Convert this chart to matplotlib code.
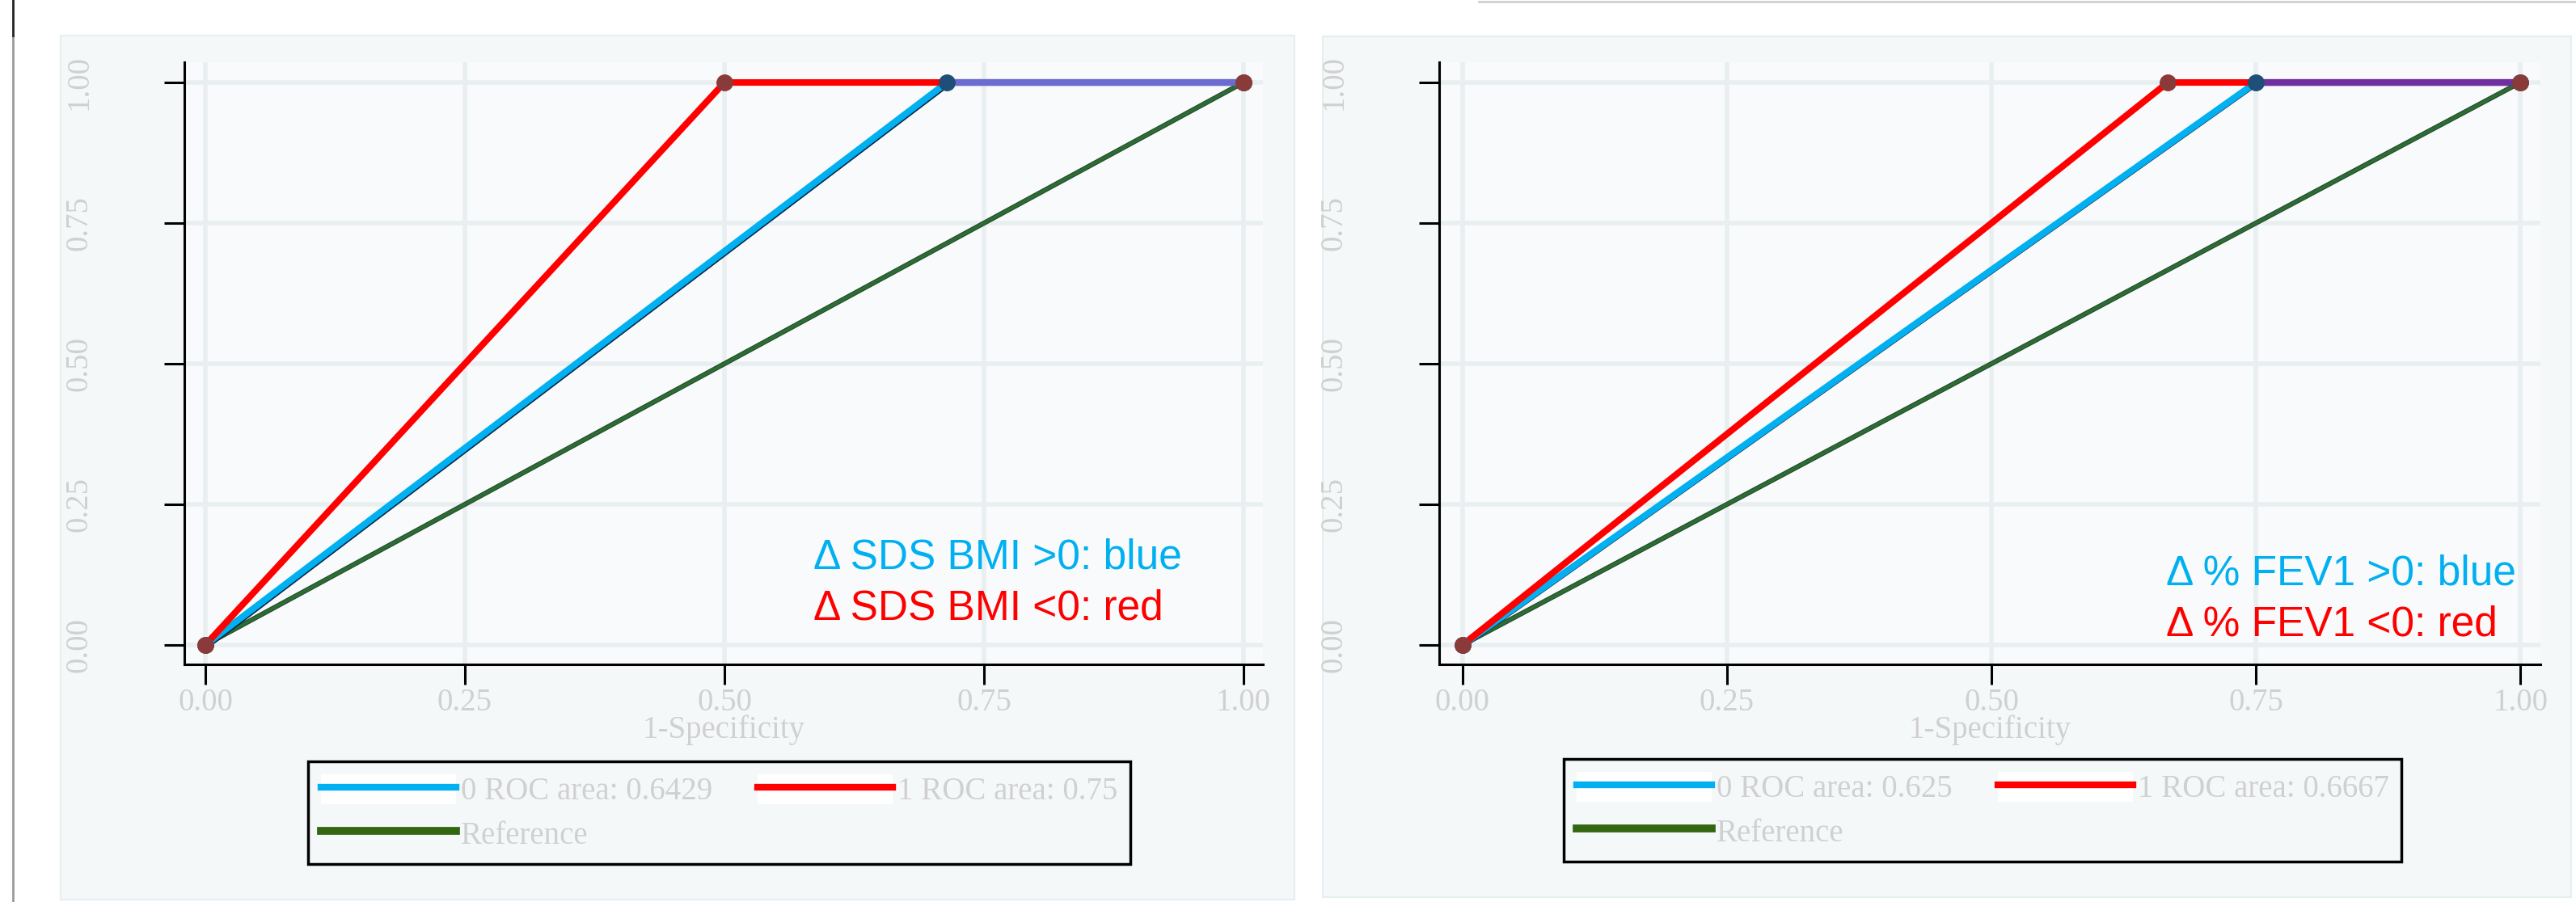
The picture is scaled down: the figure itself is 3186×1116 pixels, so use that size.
import matplotlib
matplotlib.use("Agg")
import matplotlib.pyplot as plt
from matplotlib.patches import Rectangle
from matplotlib.lines import Line2D
import matplotlib.transforms as mtransforms

# ---------------- data ----------------
ticks = [0.00, 0.25, 0.50, 0.75, 1.00]
tick_labels = ["0.00", "0.25", "0.50", "0.75", "1.00"]
ref_x = [0, 1]
ref_y = [0, 1]

left_fpr_0 = [0.0, 0.7143, 1.0]
left_tpr_0 = [0.0, 1.0, 1.0]
left_fpr_1 = [0.0, 0.5, 1.0]
left_tpr_1 = [0.0, 1.0, 1.0]
left_labels = ["0 ROC area: 0.6429", "1 ROC area: 0.75", "Reference"]
left_notes = ["\u0394 SDS BMI >0: blue", "\u0394 SDS BMI <0: red"]

right_fpr_0 = [0.0, 0.75, 1.0]
right_tpr_0 = [0.0, 1.0, 1.0]
right_fpr_1 = [0.0, 0.6667, 1.0]
right_tpr_1 = [0.0, 1.0, 1.0]
right_labels = ["0 ROC area: 0.625", "1 ROC area: 0.6667", "Reference"]
right_notes = ["\u0394 % FEV1 >0: blue", "\u0394 % FEV1 <0: red"]

# ---------------- style ----------------
W, H = 3186, 1116
DPI = 100
BLUE = "#00b0f0"
RED = "#ff0000"
GREEN = "#2f6b35"
NAVY = "#1f4e79"
DARKRED = "#8b3a3a"
PANEL = "#f5f8f9"
GRID = "#e9eff1"
TICKC = "#d0d0d0"
SERIF = ["Liberation Serif", "DejaVu Serif"]
SANS = ["Liberation Sans", "DejaVu Sans"]

fig = plt.figure(figsize=(W / DPI, H / DPI), dpi=DPI)
fig.patch.set_facecolor("white")


def fx(px):
    return px / W


def fy(py):
    return 1 - py / H


# panel backgrounds
fig.patches.append(Rectangle((fx(75), fy(1113)), fx(1601 - 75), (1113 - 44) / H,
                             transform=fig.transFigure, facecolor=PANEL,
                             edgecolor="#e6eef0", lw=1.5, zorder=-5))
fig.patches.append(Rectangle((fx(1636), fy(1110)), fx(3180 - 1636), (1110 - 45) / H,
                             transform=fig.transFigure, facecolor=PANEL,
                             edgecolor="#e6eef0", lw=1.5, zorder=-5))
# decorative frame lines
fig.add_artist(Line2D([fx(16), fx(16)], [0, fy(44)], transform=fig.transFigure,
                      color="#9a9a9a", lw=2))
fig.add_artist(Line2D([fx(16), fx(16)], [fy(44), 1], transform=fig.transFigure,
                      color="#222222", lw=2))
fig.add_artist(Line2D([fx(1829), 1], [fy(2), fy(2)], transform=fig.transFigure,
                      color="#cfcfcf", lw=2))


def make_panel(ax_rect, xlim, fpr0, tpr0, fpr1, tpr1, overlap_color, labels,
               notes, note_xy, legend_anchor, edge_w):
    ax = fig.add_axes(ax_rect)
    ax.set_zorder(1)
    ax.set_facecolor("#f8fafb")
    ax.set_xlim(*xlim)
    ax.set_ylim(-0.0345, 1.036)
    for s in ["top", "right"]:
        ax.spines[s].set_visible(False)
    for s in ["left", "bottom"]:
        ax.spines[s].set_linewidth(2.2)
        ax.spines[s].set_color("black")
    ax.set_xticks(ticks)
    ax.set_xticklabels(tick_labels)
    ax.set_yticks(ticks)
    ax.set_yticklabels(tick_labels, rotation=90, va="center")
    ax.tick_params(axis="both", length=18, width=2.2, color="black",
                   labelcolor=TICKC, labelsize=28)
    ax.tick_params(axis="x", pad=3)
    ax.tick_params(axis="y", pad=62)
    for lab in ax.get_xticklabels() + ax.get_yticklabels():
        lab.set_family(SERIF)
    ax.grid(True, color=GRID, lw=4.0, zorder=0)
    ax.set_axisbelow(True)
    ax.set_xlabel("1-Specificity", family=SERIF, fontsize=28, color=TICKC,
                  labelpad=-3)

    # reference
    ax.plot(ref_x, ref_y, color="#1f4d2a", lw=4.4, zorder=3, solid_capstyle="butt")
    ax.plot(ref_x, ref_y, color=GREEN, lw=2.8, zorder=3.1)
    # curve 0 (blue) with a thin dark edge beneath
    off = mtransforms.offset_copy(ax.transData, fig=fig, x=1.5, y=-4.0,
                                  units="dots")
    ax.plot(fpr0[:2], tpr0[:2], color="#0b2545", lw=edge_w, zorder=3.5,
            transform=off)
    ax.plot(fpr0, tpr0, color=BLUE, lw=5.8, zorder=4)
    # curve 1 (red)
    ax.plot(fpr1, tpr1, color=RED, lw=5.8, zorder=5)
    # shared horizontal segment
    x_start = max(fpr0[1], fpr1[1])
    ax.plot([x_start, fpr0[-1]], [tpr0[1], tpr0[-1]], color=overlap_color,
            lw=6.0, zorder=5.5, solid_capstyle="butt")
    # markers
    ax.plot(fpr0, tpr0, ls="none", marker="o", ms=14, mfc=NAVY, mec=NAVY,
            zorder=6)
    ax.plot(fpr1, tpr1, ls="none", marker="o", ms=14, mfc=DARKRED, mec=DARKRED,
            zorder=6.5)

    # annotations
    ax.text(note_xy[0], note_xy[1], notes[0], color=BLUE, fontsize=37,
            family=SANS, ha="left", va="center", zorder=7)
    ax.text(note_xy[0], note_xy[2], notes[1], color=RED, fontsize=37,
            family=SANS, ha="left", va="center", zorder=7)

    # legend (column-major ordering -> row 1: blue, red ; row 2: reference)
    hb = (Rectangle((0, 0), 1, 1, facecolor="white", edgecolor="none"),
          Line2D([], [], color=BLUE, lw=6))
    hr = (Rectangle((0, 0), 1, 1, facecolor="white", edgecolor="none"),
          Line2D([], [], color=RED, lw=6))
    hg = Line2D([], [], color="#336611", lw=7)
    leg = fig.legend([hb, hg, hr], [labels[0], labels[2], labels[1]], ncol=2,
                     loc="upper left", bbox_to_anchor=legend_anchor,
                     bbox_transform=fig.transFigure, borderaxespad=0,
                     frameon=True, fancybox=False, facecolor=PANEL,
                     edgecolor="black", framealpha=1,
                     prop={"family": SERIF, "size": 28},
                     handlelength=4.3, handletextpad=0.15, columnspacing=1.45,
                     labelspacing=0.35, borderpad=0.4, handleheight=1.1)
    leg.set_zorder(2)
    leg.get_frame().set_linewidth(2.5)
    for t in leg.get_texts():
        t.set_color(TICKC)
    return ax


make_panel([fx(228), fy(822), fx(1562 - 228), (822 - 77) / H],
           (-0.0202, 1.0187), left_fpr_0, left_tpr_0, left_fpr_1, left_tpr_1,
           "#6b6bd0", left_labels, left_notes, (0.586, 0.155, 0.065),
           (fx(381), fy(942)), 2.2)

make_panel([fx(1780), fy(822), fx(3142 - 1780), (822 - 77) / H],
           (-0.022, 1.019), right_fpr_0, right_tpr_0, right_fpr_1, right_tpr_1,
           "#7030a0", right_labels, right_notes, (0.665, 0.126, 0.036),
           (fx(1934), fy(939)), 0.8)

fig.savefig("out.png", dpi=DPI, facecolor="white")
